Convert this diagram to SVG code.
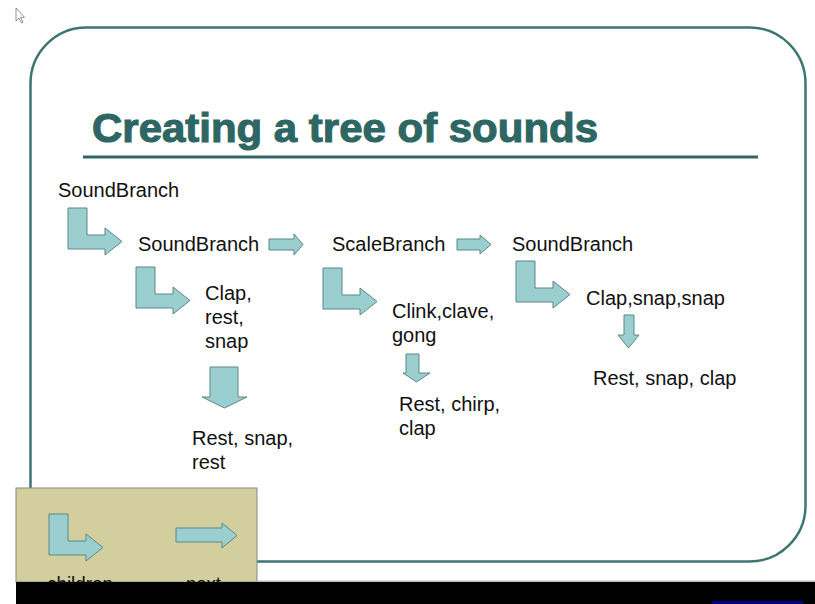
<svg xmlns="http://www.w3.org/2000/svg" width="815" height="604" viewBox="0 0 815 604">
  <style>
    .lbl { font-family: "Liberation Sans", Arial, sans-serif; font-size: 20px; fill: #111; }
    .title { font-family: "Liberation Sans", Arial, sans-serif; font-weight: bold; font-size: 40px; fill: #2e6664; stroke: #2e6664; stroke-width: 1.1; }
    .arr { fill: #9bcfcf; stroke: #5a8888; stroke-width: 1; }
  </style>
  <defs>
    <path id="bent" d="M0,0 H19 V27 H37 V20 L54,33.5 L37,47 V41 H0 Z"/>
  </defs>
  <rect width="815" height="604" fill="#fff"/>
  <!-- cursor -->
  <path d="M16,8 V21 L19,18 L21.5,23 L23,22.3 L20.6,17.5 L24.5,17.3 Z" fill="#fff" stroke="#777" stroke-width="0.8"/>
  <!-- slide frame -->
  <rect x="30.5" y="27.5" width="775" height="534" rx="56" ry="56" fill="none" stroke="#3c7673" stroke-width="2.5"/>
  <g id="title">
    <text class="title" x="92" y="142" textLength="506" lengthAdjust="spacingAndGlyphs">Creating a tree of sounds</text>
    <rect x="83" y="155.5" width="675" height="3" fill="#2e6664"/>
  </g>
  <g id="connectors">
    <use href="#bent" class="arr" x="68" y="208"/>
    <use href="#bent" class="arr" x="136" y="267"/>
    <use href="#bent" class="arr" x="323" y="268"/>
    <use href="#bent" class="arr" x="516" y="261"/>
    <path class="arr" d="M269,239 H294 V234 L303,244.5 L294,255 V250 H269 Z"/>
    <path class="arr" d="M457,239 H480 V235 L491,244.5 L480,254 V250 H457 Z"/>
    <path class="arr" d="M210,367 H238 V397 H247 L224.5,408 L202,397 H210 Z"/>
    <path class="arr" d="M406,354 H419 V373 H430 L416.5,382 L403,373 H406 Z"/>
    <path class="arr" d="M624,315 H634 V335 H639 L628.5,348 L618,335 H624 Z"/>
  </g>
  <g id="n-root"><text class="lbl" x="58" y="197">SoundBranch</text></g>
  <g id="n-sound1"><text class="lbl" x="138" y="251">SoundBranch</text></g>
  <g id="n-scale"><text class="lbl" x="332" y="251">ScaleBranch</text></g>
  <g id="n-sound2"><text class="lbl" x="512" y="251">SoundBranch</text></g>
  <g id="n-clap1"><text class="lbl" x="205" y="300">Clap,</text><text class="lbl" x="205" y="324">rest,</text><text class="lbl" x="205" y="348">snap</text></g>
  <g id="n-clink"><text class="lbl" x="392" y="318">Clink,clave,</text><text class="lbl" x="392" y="342">gong</text></g>
  <g id="n-clap2"><text class="lbl" x="586" y="305">Clap,snap,snap</text></g>
  <g id="n-rest1"><text class="lbl" x="192" y="445">Rest, snap,</text><text class="lbl" x="192" y="469">rest</text></g>
  <g id="n-rest2"><text class="lbl" x="399" y="411">Rest, chirp,</text><text class="lbl" x="399" y="435">clap</text></g>
  <g id="n-rest3"><text class="lbl" x="593" y="385">Rest, snap, clap</text></g>
  <g id="legend">
    <rect x="16" y="488" width="241" height="94" fill="#d3ce9e" stroke="#888" stroke-width="1"/>
    <use href="#bent" class="arr" x="49" y="514"/>
    <path class="arr" d="M176,528 H222 V523 L237,535.5 L222,548 V542 H176 Z"/>
    <text class="lbl" x="47" y="591" textLength="66" lengthAdjust="spacingAndGlyphs">children</text>
    <text class="lbl" x="186" y="591" textLength="35" lengthAdjust="spacingAndGlyphs">next</text>
  </g>
  <rect x="257" y="580.5" width="558" height="1.5" fill="#bbb"/>
  <rect x="16" y="582" width="799" height="22" fill="#000"/>
  <rect x="712" y="601" width="91" height="3" fill="#000080"/>
</svg>
